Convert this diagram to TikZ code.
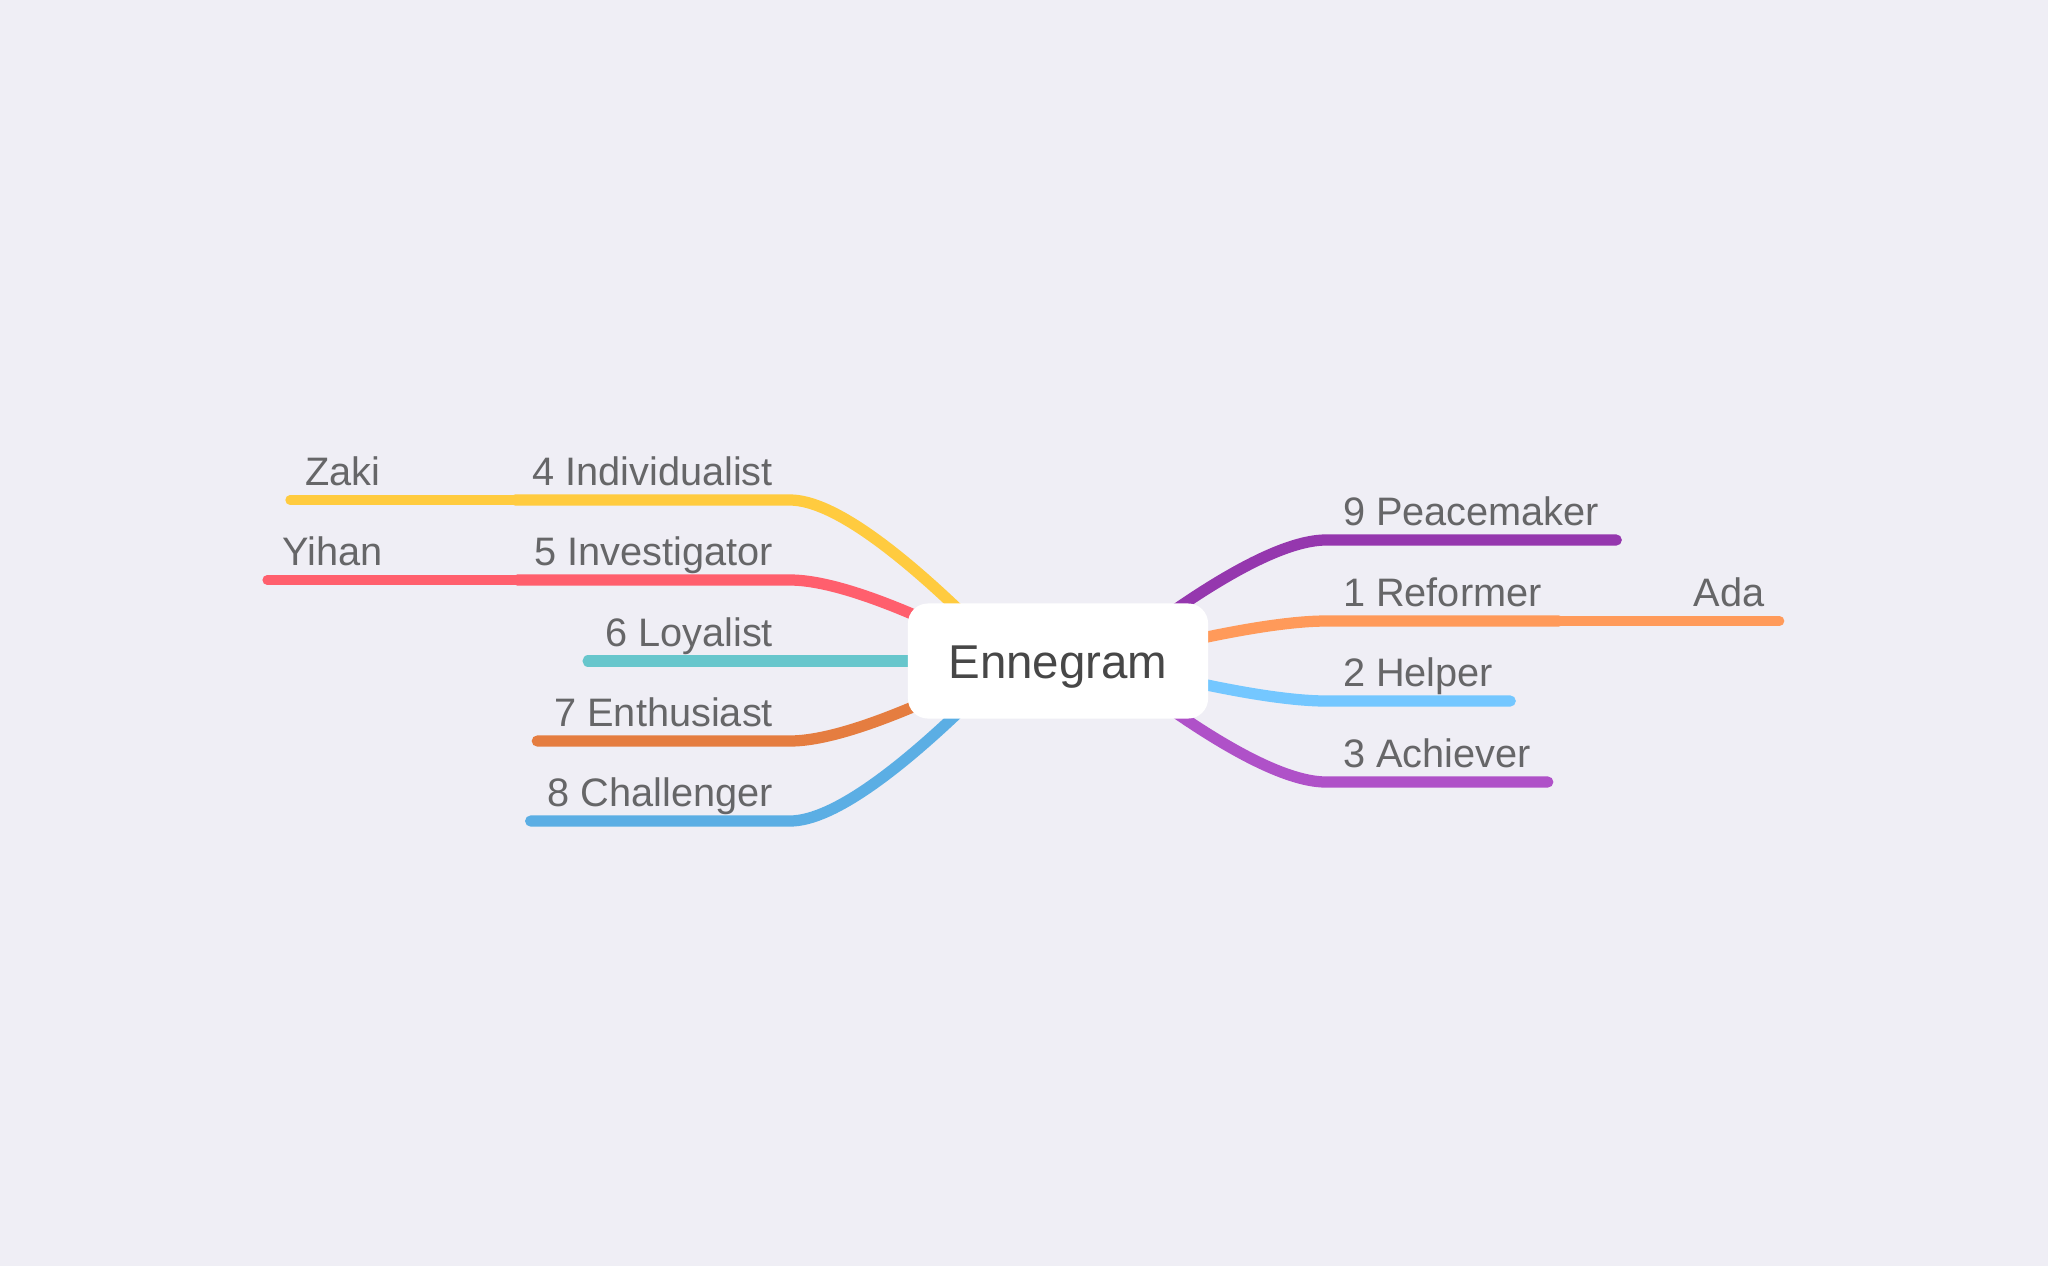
\documentclass[tikz,border=0pt]{standalone}
\usepackage{fontspec}
\setmainfont{Liberation Sans}
\usetikzlibrary{positioning}

\definecolor{bgcol}{HTML}{EFEEF5}
\definecolor{txtgray}{HTML}{666668}
\definecolor{roottxt}{HTML}{474747}
\definecolor{c1}{HTML}{FF9A5A}
\definecolor{c2}{HTML}{74C7FF}
\definecolor{c3}{HTML}{AF51C8}
\definecolor{c4}{HTML}{FFCB3F}
\definecolor{c5}{HTML}{FF5F6D}
\definecolor{c6}{HTML}{67C6CC}
\definecolor{c7}{HTML}{E57D40}
\definecolor{c8}{HTML}{5BAEE4}
\definecolor{c9}{HTML}{9537AE}

\tikzset{
  topic/.style={font=\fontsize{11.3}{13.5}\selectfont, text=txtgray,
    text height=8pt, text depth=0pt, inner xsep=0.17cm, inner ysep=0.15cm, outer sep=0pt},
  subtopic/.style={topic, inner xsep=0.15cm},
  rootbox/.style={fill=white, rounded corners=0.2cm, minimum width=3cm, minimum height=1.15cm,
    font=\fontsize{13.5}{16}\selectfont, text=roottxt, text height=9.7pt, text depth=0pt},
  mainline/.style={line width=3.2pt, line cap=round},
  subline/.style={line width=2.7pt, line cap=round}
}

\begin{document}
\begin{tikzpicture}[x=0.01cm, y=-0.01cm]
\fill[bgcol] (0,0) rectangle (2048,1266);
\useasboundingbox (0,0) rectangle (2048,1266);

% hubs behind the root box
\coordinate (hubl) at (1010,661);
\coordinate (hubr) at (1106,661);

% left topics
\node[topic, anchor=south east] (n4) at (790,500) {4 Individualist};
\node[topic, anchor=south east] (n5) at (790,580) {5 Investigator};
\node[topic, anchor=south east] (n6) at (790,661) {6 Loyalist};
\node[topic, anchor=south east] (n7) at (790,741) {7 Enthusiast};
\node[topic, anchor=south east] (n8) at (790,821) {8 Challenger};
\node[subtopic, left=1.2cm of n4] (zaki) {Zaki};
\node[subtopic, left=1.2cm of n5] (yihan) {Yihan};

% right topics
\node[topic, anchor=south west] (n9) at (1326,540) {9 Peacemaker};
\node[topic, anchor=south west] (n1) at (1326,621) {1 Reformer};
\node[topic, anchor=south west] (n2) at (1326,701) {2 Helper};
\node[topic, anchor=south west] (n3) at (1326,782) {3 Achiever};
\node[subtopic, right=1.2cm of n1] (ada) {Ada};

% branches
\draw[mainline, c4] (hubl) .. controls +(-103,-107) and +(43,0) .. (n4.south east) -- (n4.south west);
\draw[subline, c4] (n4.south west) -- (zaki.south west);
\draw[mainline, c5] (hubl) .. controls +(-103,-54) and +(43,0) .. (n5.south east) -- (n5.south west);
\draw[subline, c5] (n5.south west) -- (yihan.south west);
\draw[mainline, c6] (hubl) -- (n6.south east) -- (n6.south west);
\draw[mainline, c7] (hubl) .. controls +(-103,53) and +(43,0) .. (n7.south east) -- (n7.south west);
\draw[mainline, c8] (hubl) .. controls +(-103,107) and +(43,0) .. (n8.south east) -- (n8.south west);

\draw[mainline, c9] (hubr) .. controls +(103,-81) and +(-43,0) .. (n9.south west) -- (n9.south east);
\draw[mainline, c1] (hubr) .. controls +(103,-27) and +(-43,0) .. (n1.south west) -- (n1.south east);
\draw[subline, c1] (n1.south east) -- (ada.south east);
\draw[mainline, c2] (hubr) .. controls +(103,27) and +(-43,0) .. (n2.south west) -- (n2.south east);
\draw[mainline, c3] (hubr) .. controls +(103,81) and +(-43,0) .. (n3.south west) -- (n3.south east);

% root on top
\node[rootbox] (root) at (1058,661) {Ennegram};
\end{tikzpicture}
\end{document}
